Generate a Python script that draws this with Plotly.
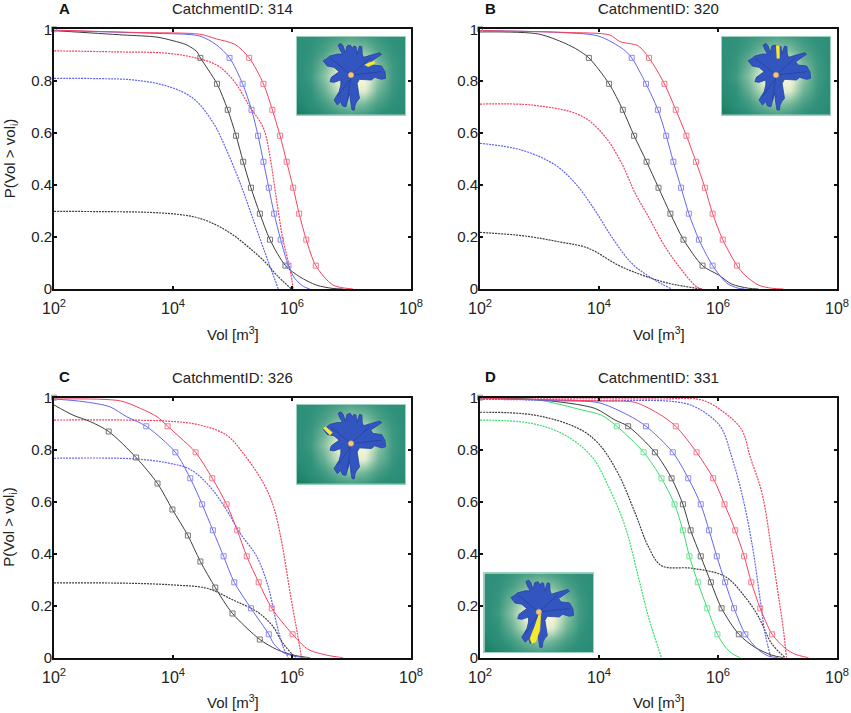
import plotly.graph_objects as go

W, H = 851, 713

# volumes are stored as log10(m3)
levels = [0.89, 0.79, 0.69, 0.59, 0.49, 0.39, 0.29, 0.19, 0.09]
levels_c_black = [0.87, 0.77, 0.67, 0.57, 0.47, 0.37, 0.27, 0.17, 0.07]

# panel A
a_red_mark = [5.28, 5.52, 5.67, 5.80, 5.91, 6.02, 6.12, 6.24, 6.40]
a_red_x = [2.0, 3.33, 4.45, 4.73, 5.04, 5.28, 5.52, 5.67, 5.80, 5.91, 6.02, 6.12, 6.24, 6.40, 6.69, 7.03]
a_red_p = [0.997, 0.988, 0.981, 0.963, 0.942, 0.89, 0.79, 0.69, 0.59, 0.49, 0.39, 0.29, 0.19, 0.09, 0.015, 0.0]
a_blue_mark = [4.95, 5.17, 5.32, 5.43, 5.52, 5.61, 5.70, 5.81, 5.94]
a_blue_x = [2.0, 3.61, 4.45, 4.73, 4.95, 5.17, 5.32, 5.43, 5.52, 5.61, 5.70, 5.81, 5.94, 6.05, 6.19, 6.30]
a_blue_p = [0.995, 0.985, 0.974, 0.94, 0.89, 0.79, 0.69, 0.59, 0.49, 0.39, 0.29, 0.19, 0.09, 0.04, 0.01, 0.0]
a_black_mark = [4.46, 4.74, 4.92, 5.06, 5.18, 5.31, 5.46, 5.63, 5.89]
a_black_x = [2.0, 3.17, 3.73, 4.0, 4.23, 4.40, 4.46, 4.74, 4.92, 5.06, 5.18, 5.31, 5.46, 5.63, 5.89, 6.13, 6.41, 6.69, 6.86]
a_black_p = [0.995, 0.978, 0.97, 0.956, 0.94, 0.914, 0.89, 0.79, 0.69, 0.59, 0.49, 0.39, 0.29, 0.19, 0.09, 0.047, 0.015, 0.002, 0.0]
a_red_dot_x = [2.0, 3.05, 3.89, 4.34, 4.73, 5.01, 5.29, 5.52, 5.63, 5.74, 5.85, 5.97, 6.02]
a_red_dot_p = [0.917, 0.913, 0.908, 0.892, 0.863, 0.805, 0.702, 0.619, 0.51, 0.343, 0.189, 0.073, 0.0]
a_blue_dot_x = [2.0, 2.77, 3.33, 3.89, 4.34, 4.68, 4.90, 5.13, 5.35, 5.57, 5.77]
a_blue_dot_p = [0.811, 0.81, 0.805, 0.782, 0.734, 0.638, 0.535, 0.407, 0.266, 0.125, 0.0]
a_black_dot_x = [2.0, 2.77, 3.61, 4.17, 4.45, 4.73, 5.01, 5.29, 5.57, 5.74, 5.99]
a_black_dot_p = [0.299, 0.298, 0.295, 0.285, 0.272, 0.246, 0.208, 0.157, 0.099, 0.054, 0.0]

# panel B
b_red_mark = [4.84, 5.10, 5.29, 5.47, 5.63, 5.78, 5.91, 6.08, 6.32]
b_red_x = [2.0, 3.43, 4.18, 4.35, 4.66, 4.84, 5.10, 5.29, 5.47, 5.63, 5.78, 5.91, 6.08, 6.32, 6.45, 6.68, 6.90, 7.10]
b_red_p = [0.995, 0.988, 0.978, 0.953, 0.936, 0.89, 0.79, 0.69, 0.59, 0.49, 0.39, 0.29, 0.19, 0.09, 0.054, 0.015, 0.003, 0.0]
b_blue_mark = [4.55, 4.79, 4.99, 5.13, 5.25, 5.38, 5.51, 5.68, 5.91]
b_blue_x = [2.0, 3.32, 3.99, 4.41, 4.55, 4.79, 4.99, 5.13, 5.25, 5.38, 5.51, 5.68, 5.91, 6.15, 6.34, 6.45]
b_blue_p = [0.995, 0.988, 0.974, 0.923, 0.89, 0.79, 0.69, 0.59, 0.49, 0.39, 0.29, 0.19, 0.09, 0.022, 0.003, 0.0]
b_black_mark = [3.83, 4.17, 4.40, 4.59, 4.80, 5.00, 5.20, 5.42, 5.74]
b_black_x = [2.0, 2.98, 3.43, 3.65, 3.83, 4.17, 4.40, 4.59, 4.80, 5.00, 5.20, 5.42, 5.74, 6.01, 6.23, 6.51, 6.68]
b_black_p = [0.99, 0.982, 0.946, 0.92, 0.89, 0.79, 0.69, 0.59, 0.49, 0.39, 0.29, 0.19, 0.09, 0.054, 0.019, 0.003, 0.0]
b_red_dot_x = [2.0, 2.92, 3.71, 4.10, 4.38, 4.61, 4.83, 5.11, 5.39, 5.64, 5.75]
b_red_dot_p = [0.712, 0.707, 0.666, 0.587, 0.484, 0.368, 0.279, 0.163, 0.073, 0.009, 0.0]
b_blue_dot_x = [2.0, 2.70, 3.26, 3.60, 3.93, 4.21, 4.55, 4.89, 5.22]
b_blue_dot_p = [0.561, 0.535, 0.478, 0.407, 0.304, 0.202, 0.099, 0.041, 0.0]
b_black_dot_x = [2.0, 2.76, 3.32, 3.82, 4.32, 4.72, 5.17, 5.73]
b_black_dot_p = [0.218, 0.204, 0.182, 0.157, 0.092, 0.054, 0.022, 0.0]

# panel C
c_red_mark = [3.91, 4.38, 4.66, 4.90, 5.08, 5.24, 5.44, 5.66, 6.01]
c_red_x = [2.0, 3.11, 3.45, 3.73, 3.91, 4.12, 4.38, 4.66, 4.90, 5.08, 5.24, 5.44, 5.66, 6.01, 6.27, 6.58, 6.86]
c_red_p = [0.995, 0.988, 0.959, 0.927, 0.89, 0.847, 0.79, 0.69, 0.59, 0.49, 0.39, 0.29, 0.19, 0.09, 0.032, 0.01, 0.0]
c_blue_mark = [3.55, 4.04, 4.29, 4.49, 4.67, 4.85, 5.03, 5.31, 5.61]
c_blue_x = [2.0, 2.49, 2.94, 3.22, 3.55, 4.04, 4.29, 4.49, 4.67, 4.85, 5.03, 5.31, 5.61, 5.69, 5.85, 6.08, 6.22]
c_blue_p = [0.995, 0.985, 0.965, 0.927, 0.89, 0.79, 0.69, 0.59, 0.49, 0.39, 0.29, 0.19, 0.09, 0.055, 0.02, 0.004, 0.0]
c_black_mark = [2.92, 3.38, 3.74, 3.99, 4.25, 4.46, 4.71, 5.00, 5.46]
c_black_x = [2.0, 2.32, 2.61, 2.92, 3.38, 3.74, 3.99, 4.25, 4.46, 4.71, 5.00, 5.46, 5.74, 6.02, 6.30]
c_black_p = [0.972, 0.933, 0.908, 0.87, 0.77, 0.67, 0.57, 0.47, 0.37, 0.27, 0.17, 0.07, 0.032, 0.01, 0.0]
c_red_dot_x = [2.0, 3.89, 4.45, 4.90, 5.18, 5.52, 5.69, 5.83, 5.97, 6.08, 6.16]
c_red_dot_p = [0.914, 0.91, 0.895, 0.856, 0.786, 0.671, 0.581, 0.44, 0.247, 0.106, 0.0]
c_blue_dot_x = [2.0, 3.33, 3.89, 4.29, 4.62, 4.90, 5.13, 5.41, 5.60, 5.74, 5.85, 5.94]
c_blue_dot_p = [0.767, 0.765, 0.75, 0.724, 0.658, 0.568, 0.478, 0.388, 0.273, 0.132, 0.042, 0.0]
c_black_dot_x = [2.0, 3.33, 4.06, 4.57, 5.01, 5.41, 5.66, 5.85, 6.02, 6.08]
c_black_dot_p = [0.288, 0.286, 0.279, 0.267, 0.222, 0.177, 0.126, 0.055, 0.01, 0.0]

# panel D
d_red_mark = [5.29, 5.64, 5.92, 6.11, 6.29, 6.44, 6.56, 6.71, 6.91]
d_red_x = [2.0, 3.88, 4.60, 4.99, 5.29, 5.64, 5.92, 6.11, 6.29, 6.44, 6.56, 6.71, 6.91, 7.13, 7.29, 7.52]
d_red_p = [0.998, 0.988, 0.982, 0.94, 0.89, 0.79, 0.69, 0.59, 0.49, 0.39, 0.29, 0.19, 0.09, 0.036, 0.014, 0.0]
d_blue_mark = [4.79, 5.24, 5.50, 5.71, 5.85, 5.98, 6.12, 6.27, 6.46]
d_blue_x = [2.0, 3.32, 3.99, 4.49, 4.79, 5.24, 5.50, 5.71, 5.85, 5.98, 6.12, 6.27, 6.46, 6.68, 6.85, 7.01]
d_blue_p = [0.998, 0.988, 0.981, 0.933, 0.89, 0.79, 0.69, 0.59, 0.49, 0.39, 0.29, 0.19, 0.09, 0.03, 0.006, 0.0]
d_black_mark = [4.49, 4.94, 5.22, 5.41, 5.54, 5.71, 5.88, 6.06, 6.35]
d_black_x = [2.0, 3.04, 3.93, 4.27, 4.49, 4.94, 5.22, 5.41, 5.54, 5.71, 5.88, 6.06, 6.35, 6.62, 6.90, 7.10]
d_black_p = [0.998, 0.991, 0.959, 0.914, 0.89, 0.79, 0.69, 0.59, 0.49, 0.39, 0.29, 0.19, 0.09, 0.04, 0.01, 0.0]
d_green_mark = [4.30, 4.75, 5.05, 5.27, 5.41, 5.52, 5.66, 5.82, 5.99]
d_green_x = [2.0, 2.98, 3.71, 4.04, 4.30, 4.75, 5.05, 5.27, 5.41, 5.52, 5.66, 5.82, 5.99, 6.12, 6.23, 6.37]
d_green_p = [0.998, 0.991, 0.953, 0.933, 0.89, 0.79, 0.69, 0.59, 0.49, 0.39, 0.29, 0.19, 0.09, 0.042, 0.017, 0.0]
d_red_dot_x = [2.0, 5.0, 5.73, 6.12, 6.40, 6.54, 6.74, 6.90, 7.01, 7.10, 7.15]
d_red_dot_p = [0.995, 0.995, 0.991, 0.94, 0.876, 0.773, 0.632, 0.414, 0.247, 0.106, 0.0]
d_blue_dot_x = [2.0, 3.88, 5.45, 5.84, 6.06, 6.23, 6.40, 6.57, 6.71, 6.79, 6.89]
d_blue_dot_p = [0.994, 0.988, 0.978, 0.933, 0.882, 0.773, 0.632, 0.44, 0.222, 0.094, 0.0]
d_black_dot_x = [2.0, 2.92, 3.65, 3.99, 4.32, 4.61, 4.83, 5.05, 5.56, 6.12, 6.45, 6.68, 6.90, 7.13]
d_black_dot_p = [0.944, 0.933, 0.882, 0.824, 0.709, 0.555, 0.427, 0.354, 0.344, 0.312, 0.235, 0.158, 0.055, 0.0]
d_green_dot_x = [2.0, 2.87, 3.43, 3.88, 4.16, 4.44, 4.66, 4.83, 5.05]
d_green_dot_p = [0.914, 0.901, 0.856, 0.773, 0.658, 0.504, 0.312, 0.158, 0.0]

# catchment map inset, in its own little coordinates
map_x = [0, 40, 80, 120, 160, 200, 240, 280, 320, 360]
map_y = [0, 40, 80, 120, 160, 200, 240, 280]
map_glow = [
    [0.28, 0.30, 0.33, 0.38, 0.42, 0.38, 0.33, 0.30, 0.28, 0.26],
    [0.28, 0.31, 0.38, 0.52, 0.62, 0.56, 0.40, 0.32, 0.28, 0.26],
    [0.28, 0.33, 0.50, 0.78, 0.90, 0.82, 0.54, 0.35, 0.28, 0.26],
    [0.28, 0.35, 0.58, 0.92, 1.00, 1.00, 0.62, 0.36, 0.28, 0.26],
    [0.24, 0.31, 0.48, 0.78, 0.95, 0.88, 0.52, 0.34, 0.26, 0.26],
    [0.18, 0.28, 0.36, 0.50, 0.60, 0.52, 0.38, 0.30, 0.26, 0.24],
    [0.06, 0.18, 0.28, 0.32, 0.34, 0.32, 0.28, 0.25, 0.22, 0.20],
    [0.00, 0.10, 0.22, 0.26, 0.28, 0.26, 0.24, 0.22, 0.18, 0.16],
]
glow_scale = [[0, "#0f7558"], [0.3, "#2f917a"], [0.6, "#8cc4a6"], [0.85, "#dcebcc"], [1, "#fbf6dc"]]
basin_x = [122, 130, 137, 143, 148, 158, 164, 168, 175, 177, 185, 192, 193, 197, 220, 245, 250, 238, 218, 225,
           250, 260, 262, 250, 230, 220, 202, 185, 178, 183, 185, 177, 172, 170, 163, 158, 156, 152, 145, 135,
           130, 120, 110, 125, 130, 130, 110, 98, 102, 125, 110, 90, 78, 88, 98, 120, 135, 128, 122]
basin_y = [25, 20, 28, 48, 28, 25, 35, 28, 30, 52, 28, 30, 52, 62, 55, 48, 53, 62, 75, 85,
           88, 105, 125, 128, 122, 130, 130, 128, 140, 165, 185, 195, 205, 220, 220, 190, 170, 185, 210, 208,
           195, 205, 190, 165, 145, 130, 137, 135, 122, 105, 92, 88, 72, 66, 58, 52, 52, 40, 25]
vein_x = [160, 215, None, 160, 100, None, 160, 150, None, 160, 250, None, 155, 120]
vein_y = [115, 65, None, 115, 65, None, 115, 190, None, 115, 105, None, 130, 180]
outlet_x = [160]
outlet_y = [115]
yellow_a_x = [200, 215, 230, 228, 210]
yellow_a_y = [85, 77, 75, 82, 90]
yellow_b_x = [160, 170, 170, 162]
yellow_b_y = [28, 28, 65, 65]
yellow_c_x = [78, 85, 105, 98]
yellow_c_y = [70, 65, 82, 90]
yellow_d_x = [160, 166, 163, 150, 140, 134, 145]
yellow_d_y = [120, 120, 170, 205, 210, 195, 165]

RED, BLUE, BLACK, GREEN = "#f5405f", "#6464ee", "#3c3c3c", "#33e06a"
RED_M, BLUE_M, BLACK_M, GREEN_M = "#f77a8e", "#8c8cf0", "#777777", "#6fe595"

solid_a = [(a_black_x, a_black_p, a_black_mark, levels, BLACK, BLACK_M),
           (a_blue_x, a_blue_p, a_blue_mark, levels, BLUE, BLUE_M),
           (a_red_x, a_red_p, a_red_mark, levels, RED, RED_M)]
solid_b = [(b_black_x, b_black_p, b_black_mark, levels, BLACK, BLACK_M),
           (b_blue_x, b_blue_p, b_blue_mark, levels, BLUE, BLUE_M),
           (b_red_x, b_red_p, b_red_mark, levels, RED, RED_M)]
solid_c = [(c_black_x, c_black_p, c_black_mark, levels_c_black, BLACK, BLACK_M),
           (c_blue_x, c_blue_p, c_blue_mark, levels, BLUE, BLUE_M),
           (c_red_x, c_red_p, c_red_mark, levels, RED, RED_M)]
solid_d = [(d_green_x, d_green_p, d_green_mark, levels, GREEN, GREEN_M),
           (d_black_x, d_black_p, d_black_mark, levels, BLACK, BLACK_M),
           (d_blue_x, d_blue_p, d_blue_mark, levels, BLUE, BLUE_M),
           (d_red_x, d_red_p, d_red_mark, levels, RED, RED_M)]
dotted_a = [(a_black_dot_x, a_black_dot_p, BLACK), (a_blue_dot_x, a_blue_dot_p, BLUE), (a_red_dot_x, a_red_dot_p, RED)]
dotted_b = [(b_black_dot_x, b_black_dot_p, BLACK), (b_blue_dot_x, b_blue_dot_p, BLUE), (b_red_dot_x, b_red_dot_p, RED)]
dotted_c = [(c_black_dot_x, c_black_dot_p, BLACK), (c_blue_dot_x, c_blue_dot_p, BLUE), (c_red_dot_x, c_red_dot_p, RED)]
dotted_d = [(d_green_dot_x, d_green_dot_p, GREEN), (d_black_dot_x, d_black_dot_p, BLACK),
            (d_blue_dot_x, d_blue_dot_p, BLUE), (d_red_dot_x, d_red_dot_p, RED)]

# letter, id, plot box (px), inset box (px), yellow sub-basin, curves, has y title
panels = [
    ("A", "314", (54, 411, 29.3, 289), (296.7, 405.3, 36.7, 115), (yellow_a_x, yellow_a_y), solid_a, dotted_a, True),
    ("B", "320", (480, 837, 29.3, 289), (721.7, 830.3, 36.7, 115), (yellow_b_x, yellow_b_y), solid_b, dotted_b, False),
    ("C", "326", (54, 411, 397.7, 657.7), (296.7, 405.3, 405, 483.7), (yellow_c_x, yellow_c_y), solid_c, dotted_c, True),
    ("D", "331", (480, 837, 397.7, 657.7), (484.3, 593.3, 573.3, 652.3), (yellow_d_x, yellow_d_y), solid_d, dotted_d, False),
]


def vols(logs):
    return [10 ** v for v in logs]


FONT = "Liberation Sans"
TEXT = "#222222"
fig = go.Figure()
annotations = []
layout_axes = {}


def label(x, y, text, size=15, color=TEXT, angle=0):
    annotations.append(dict(xref="paper", yref="paper", x=x / W, y=1 - y / H, xanchor="center", yanchor="middle",
                            text=text, textangle=angle, showarrow=False, font=dict(family=FONT, size=size, color=color)))


for i, (letter, cid, box, inset, yellow, solid, dotted, ytitle) in enumerate(panels):
    n = i + 1
    ax = "" if n == 1 else str(n)
    xa, ya = "x" + ax, "y" + ax
    x0, x1, y0, y1 = box

    for xs, ps, color in dotted:
        fig.add_trace(go.Scatter(x=vols(xs), y=ps, xaxis=xa, yaxis=ya, mode="lines",
                                 line=dict(color=color, width=1.2, dash="2px,1px", shape="spline", smoothing=1)))
    for xs, ps, mark, lev, color, mcolor in solid:
        fig.add_trace(go.Scatter(x=vols(xs), y=ps, xaxis=xa, yaxis=ya, mode="lines",
                                 line=dict(color=color, width=1, shape="spline", smoothing=0.8)))
        fig.add_trace(go.Scatter(x=vols(mark), y=lev, xaxis=xa, yaxis=ya, mode="markers",
                                 marker=dict(symbol="square-open", size=5, color=mcolor, line=dict(width=1, color=mcolor))))
    # the stray marker every panel has in its top left corner
    fig.add_trace(go.Scatter(x=[100], y=[1.0], xaxis=xa, yaxis=ya, mode="markers", cliponaxis=False,
                             marker=dict(symbol="square-open", size=5, color="#999999", line=dict(width=1, color="#999999"))))

    layout_axes["xaxis" + ax] = dict(
        type="log", range=[2, 8], domain=[x0 / W, x1 / W], anchor=ya, automargin=False,
        tickmode="array", tickvals=[1e2, 1e4, 1e6, 1e8],
        ticktext=["10<sup>2</sup>", "10<sup>4</sup>", "10<sup>6</sup>", "10<sup>8</sup>"],
        ticks="inside", ticklen=3, tickwidth=1.5, tickcolor="#111111", ticklabelstandoff=4,
        showgrid=False, zeroline=False, showline=True, linecolor="#111111", linewidth=1.6, mirror="allticks",
        tickfont=dict(family=FONT, size=16, color=TEXT),
    )
    layout_axes["yaxis" + ax] = dict(
        range=[0, 1], domain=[1 - y1 / H, 1 - y0 / H], anchor=xa, automargin=False,
        tickmode="array", tickvals=[0, 0.2, 0.4, 0.6, 0.8, 1], ticktext=["0", "0.2", "0.4", "0.6", "0.8", "1"],
        ticks="inside", ticklen=3, tickwidth=1.5, tickcolor="#111111", ticklabelstandoff=-3,
        showgrid=False, zeroline=False, showline=True, linecolor="#111111", linewidth=1.6, mirror="allticks",
        tickfont=dict(family=FONT, size=15, color=TEXT),
    )

    label((x0 + x1) / 2, y0 - 20.5, "CatchmentID: " + cid)
    label(x0 + 10, y0 - 21, "<b>" + letter + "</b>", color="#111111")
    label((x0 + x1) / 2, y1 + 44, "Vol [m<sup>3</sup>]")
    if ytitle:
        label(10, (y0 + y1) / 2, "P(Vol > vol<sub>i</sub>)", angle=-90)

    # catchment map on its own axes
    m = n + 4
    xb, yb = "x" + str(m), "y" + str(m)
    ix0, ix1, iy0, iy1 = inset
    fig.add_trace(go.Heatmap(x=map_x, y=map_y, z=map_glow, xaxis=xb, yaxis=yb, colorscale=glow_scale,
                             zmin=0, zmax=1, zsmooth="best", showscale=False, hoverinfo="skip"))
    fig.add_trace(go.Scatter(x=basin_x, y=basin_y, xaxis=xb, yaxis=yb, mode="lines", fill="toself",
                             fillcolor="#3355c0", line=dict(color="#23409f", width=0.8)))
    fig.add_trace(go.Scatter(x=vein_x, y=vein_y, xaxis=xb, yaxis=yb, mode="lines",
                             line=dict(color="#1e3a90", width=0.6)))
    fig.add_trace(go.Scatter(x=yellow[0], y=yellow[1], xaxis=xb, yaxis=yb, mode="lines", fill="toself",
                             fillcolor="#f7ea2c", line=dict(color="#f7ea2c", width=0.5)))
    fig.add_trace(go.Scatter(x=outlet_x, y=outlet_y, xaxis=xb, yaxis=yb, mode="markers",
                             marker=dict(size=5.5, color="#f5c57a", line=dict(width=0.5, color="#c59a50"))))
    inset_axis = dict(showgrid=False, zeroline=False, showticklabels=False, ticks="", showline=True,
                      linecolor="#9ed2bf", linewidth=1, mirror=True, automargin=False)
    layout_axes["xaxis" + str(m)] = dict(inset_axis, domain=[ix0 / W, ix1 / W], range=[0, 320], anchor=yb)
    layout_axes["yaxis" + str(m)] = dict(inset_axis, domain=[1 - iy1 / H, 1 - iy0 / H], range=[235, 0], anchor=xb)

fig.update_layout(
    width=W, height=H, margin=dict(l=0, r=0, t=0, b=0),
    paper_bgcolor="white", plot_bgcolor="white", showlegend=False,
    annotations=annotations, **layout_axes,
)
fig.write_html("out.html", config={"displayModeBar": False}, post_script="document.body.style.margin='0';")
